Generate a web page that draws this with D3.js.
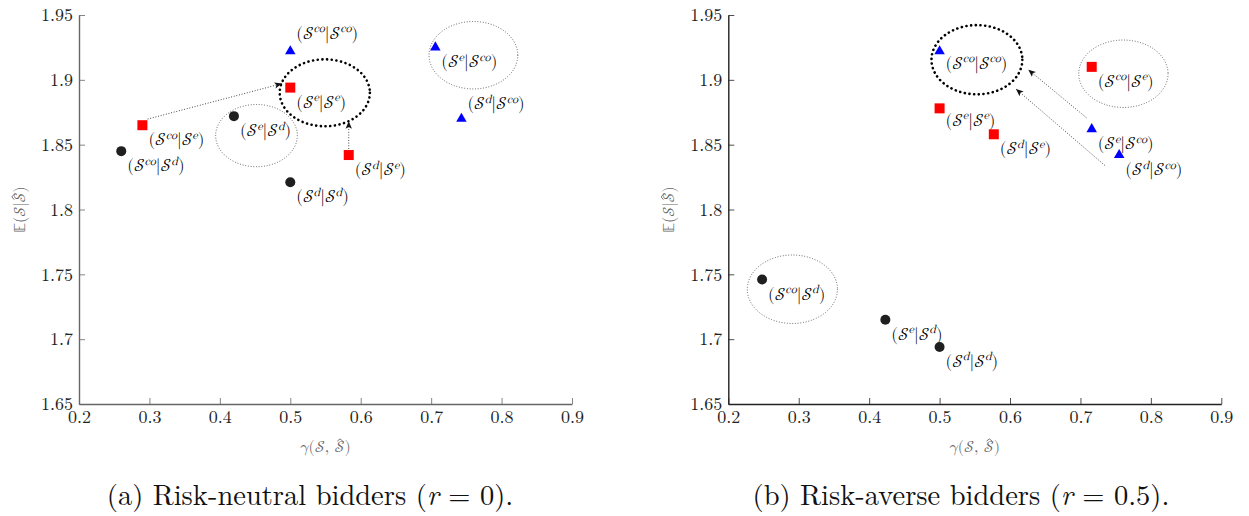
<!DOCTYPE html>
<html>
<head>
<meta charset="utf-8">
<script src="https://cdn.jsdelivr.net/npm/d3@7"></script>
<style>
  html, body { margin: 0; padding: 0; background: #fff; }
  svg { display: block; }
</style>
</head>
<body>
<svg id="chart" width="1249" height="516"></svg>
<script>
// ---------------- data ----------------
const xTicks = [0.2, 0.3, 0.4, 0.5, 0.6, 0.7, 0.8, 0.9];
const xTickLabels = ["0.2", "0.3", "0.4", "0.5", "0.6", "0.7", "0.8", "0.9"];
const yTicks = [1.65, 1.7, 1.75, 1.8, 1.85, 1.9, 1.95];
const yTickLabels = ["1.65", "1.7", "1.75", "1.8", "1.85", "1.9", "1.95"];

// strategy of the first term for each point, in order
const strategies = ["co", "e", "d"];

// Panel (a): risk-neutral bidders (r = 0)
const neutralGammaD  = [0.26, 0.42, 0.50];      // (S^k | S^d)  black circles
const neutralValueD  = [1.845, 1.872, 1.821];
const neutralGammaE  = [0.29, 0.50, 0.583];     // (S^k | S^e)  red squares
const neutralValueE  = [1.865, 1.894, 1.842];
const neutralGammaCo = [0.50, 0.706, 0.743];    // (S^k | S^co) blue triangles
const neutralValueCo = [1.922, 1.925, 1.870];

// Panel (b): risk-averse bidders (r = 0.5)
const averseGammaD  = [0.248, 0.423, 0.50];
const averseValueD  = [1.746, 1.715, 1.694];
const averseGammaE  = [0.716, 0.50, 0.577];
const averseValueE  = [1.910, 1.878, 1.858];
const averseGammaCo = [0.50, 0.716, 0.755];
const averseValueCo = [1.922, 1.862, 1.842];

// annotations (data units): ellipses [cx, cy, rx, ry, thick?]
const neutralEllipses = [[0.549, 1.890, 0.064, 0.0258, true], [0.452, 1.857, 0.058, 0.024, false], [0.760, 1.919, 0.063, 0.026, false]];
const averseEllipses  = [[0.553, 1.9155, 0.0645, 0.0267, true], [0.761, 1.9047, 0.0634, 0.026, false], [0.291, 1.7385, 0.064, 0.0264, false]];
// arrows [x0, y0, x1, y1]
const neutralArrows = [[0.298, 1.8698, 0.4875, 1.897], [0.583, 1.847, 0.583, 1.8677]];
const averseArrows  = [[0.708, 1.871, 0.6265, 1.9076], [0.734, 1.8343, 0.609, 1.8927]];

const captionA = "(a) Risk-neutral bidders (";
const captionB = "(b) Risk-averse bidders (";

// ---------------- drawing ----------------
const FONT = '"Latin Modern Roman", "Liberation Serif", serif';
const MATH = '"Latin Modern Math", "Latin Modern Roman", "Liberation Serif", serif';
const svg = d3.select("#chart");
const defs = svg.append("defs");
defs.append("marker")
  .attr("id", "arrowhead")
  .attr("viewBox", "0 -4 8 8")
  .attr("refX", 7).attr("refY", 0)
  .attr("markerWidth", 8).attr("markerHeight", 8)
  .attr("markerUnits", "userSpaceOnUse")
  .attr("orient", "auto")
  .append("path")
  .attr("d", "M0,-3.2 L7.5,0 L0,3.2 L1.8,0 Z")
  .attr("fill", "#111");

const SCR = "\u{1D4AE}"; // calligraphic S

function pointLabel(g, x, y, sup1, sup2) {
  const t = g.append("text")
    .attr("x", x).attr("y", y)
    .attr("font-family", MATH).style("font-family", MATH)
    .attr("font-size", 17)
    .attr("fill", "#000");
  t.append("tspan").text("(");
  t.append("tspan").text(SCR);
  t.append("tspan").attr("font-size", 12).attr("dy", -6.5).style("font-style", "italic").text(sup1);
  t.append("tspan").attr("dy", 6.5).text("|");
  t.append("tspan").text(SCR);
  t.append("tspan").attr("font-size", 12).attr("dy", -6.5).style("font-style", "italic").text(sup2);
  t.append("tspan").attr("dy", 6.5).text(")");
}

// axis title "<pre> S-hat )" centred on (0,0) of group g; the hat is a small drawn chevron
function hatTitle(g, pre, size) {
  const t = g.append("text").attr("x", 0).attr("y", 0)
    .attr("font-family", MATH).style("font-family", MATH)
    .attr("font-size", size).attr("fill", "#666");
  const p1 = t.append("tspan").text(pre);
  const ps = t.append("tspan").text(SCR);
  const p3 = t.append("tspan").text(")");
  const l1 = p1.node().getComputedTextLength();
  const ls = ps.node().getComputedTextLength();
  const l3 = p3.node().getComputedTextLength();
  const total = l1 + ls + l3;
  t.attr("x", -total / 2);
  const hx = -total / 2 + l1 + ls * 0.55;
  const hy = -size * 0.78;
  g.append("path")
    .attr("d", `M${hx - size * 0.17},${hy + size * 0.1} L${hx},${hy - size * 0.04} L${hx + size * 0.17},${hy + size * 0.1}`)
    .attr("fill", "none").attr("stroke", "#666").attr("stroke-width", 0.9);
}

function drawPanel(opt) {
  const x = d3.scaleLinear().domain([0.2, 0.9]).range([opt.left, opt.left + 493]);
  const y = d3.scaleLinear().domain([1.65, 1.95]).range([404, 15]);
  const g = svg.append("g");

  // ellipses
  opt.ellipses.forEach(e => {
    g.append("ellipse")
      .attr("cx", x(e[0])).attr("cy", y(e[1]))
      .attr("rx", x(e[0] + e[2]) - x(e[0]))
      .attr("ry", y(e[1]) - y(e[1] + e[3]))
      .attr("fill", "none")
      .attr("stroke", e[4] ? "#000" : "#555")
      .attr("stroke-width", e[4] ? 2.6 : 1)
      .attr("stroke-linecap", "round")
      .attr("stroke-dasharray", e[4] ? "0.1 4.6" : "0.1 2.6");
  });

  // arrows
  opt.arrows.forEach(a => {
    g.append("line")
      .attr("x1", x(a[0])).attr("y1", y(a[1]))
      .attr("x2", x(a[2])).attr("y2", y(a[3]))
      .attr("stroke", "#333").attr("stroke-width", 1)
      .attr("stroke-linecap", "round")
      .attr("stroke-dasharray", "0.1 2.6")
      .attr("marker-end", "url(#arrowhead)");
  });

  // axes
  const ax = g.append("g").attr("transform", `translate(0,${y(1.65)})`)
    .call(d3.axisBottom(x).tickValues(xTicks).tickFormat((d, i) => xTickLabels[i])
      .tickSizeInner(-6).tickSizeOuter(0).tickPadding(6));
  const ay = g.append("g").attr("transform", `translate(${x(0.2)},0)`)
    .call(d3.axisLeft(y).tickValues(yTicks).tickFormat((d, i) => yTickLabels[i])
      .tickSizeInner(-6).tickSizeOuter(0).tickPadding(6));
  [ax, ay].forEach(a => {
    a.attr("font-family", FONT);
    a.select(".domain").attr("stroke", opt.axisColor).attr("stroke-width", 1.4);
    a.selectAll(".tick line").attr("stroke", opt.axisColor).attr("stroke-width", 0.8);
    a.selectAll(".tick text").attr("font-size", 18).attr("fill", "#222")
      .attr("font-family", FONT).style("font-family", FONT);
  });

  // markers
  const series = [
    { gx: opt.gD, vy: opt.vD, sup2: "d", type: "circle" },
    { gx: opt.gE, vy: opt.vE, sup2: "e", type: "square" },
    { gx: opt.gCo, vy: opt.vCo, sup2: "co", type: "triangle" }
  ];
  series.forEach(s => {
    s.gx.forEach((gv, i) => {
      const px = x(gv), py = y(s.vy[i]);
      if (s.type === "circle") {
        g.append("circle").attr("cx", px).attr("cy", py).attr("r", 5).attr("fill", "#1f1f1f");
      } else if (s.type === "square") {
        g.append("rect").attr("x", px - 5).attr("y", py - 5).attr("width", 10).attr("height", 10).attr("fill", "#ff0000");
      } else {
        g.append("path").attr("transform", `translate(${px},${py})`)
          .attr("d", d3.symbol(d3.symbolTriangle, 48)()).attr("fill", "#0000ff");
      }
      const key = strategies[i] + "|" + s.sup2;
      const off = (opt.above && opt.above[key]) || [6, 15.5];
      pointLabel(g, px + off[0], py + off[1] + 4.5, strategies[i], s.sup2);
    });
  });

  // axis titles
  const gx = g.append("g").attr("transform", `translate(${x(0.55)},452)`);
  hatTitle(gx, "\u{1D6FE}(" + SCR + ", ", 16);
  const gy = g.append("g")
    .attr("transform", `translate(${opt.left - 54},${(y(1.65) + y(1.95)) / 2}) rotate(-90)`);
  hatTitle(gy, "\u{1D53C}(" + SCR + "|", 16);

  // caption
  const cap = svg.append("text")
    .attr("x", opt.capX).attr("y", 505)
    .attr("font-family", FONT).style("font-family", FONT)
    .attr("text-anchor", "middle").attr("font-size", 28.5).attr("fill", "#111");
  cap.append("tspan").text(opt.caption);
  cap.append("tspan").style("font-style", "italic").text("r");
  cap.append("tspan").text(" = " + opt.r + ").");
}

drawPanel({
  left: 79, axisColor: "#666",
  gD: neutralGammaD, vD: neutralValueD, gE: neutralGammaE, vE: neutralValueE, gCo: neutralGammaCo, vCo: neutralValueCo,
  ellipses: neutralEllipses, arrows: neutralArrows,
  above: { "co|co": [6, -17], "d|co": [6, -14] },
  caption: captionA, r: "0", capX: 310
});
drawPanel({
  left: 728.3, axisColor: "#222",
  gD: averseGammaD, vD: averseValueD, gE: averseGammaE, vE: averseValueE, gCo: averseGammaCo, vCo: averseValueCo,
  ellipses: averseEllipses, arrows: averseArrows,
  above: { "co|co": [6, 13], "e|e": [6, 13] },
  caption: captionB, r: "0.5", capX: 961
});
</script>
</body>
</html>
